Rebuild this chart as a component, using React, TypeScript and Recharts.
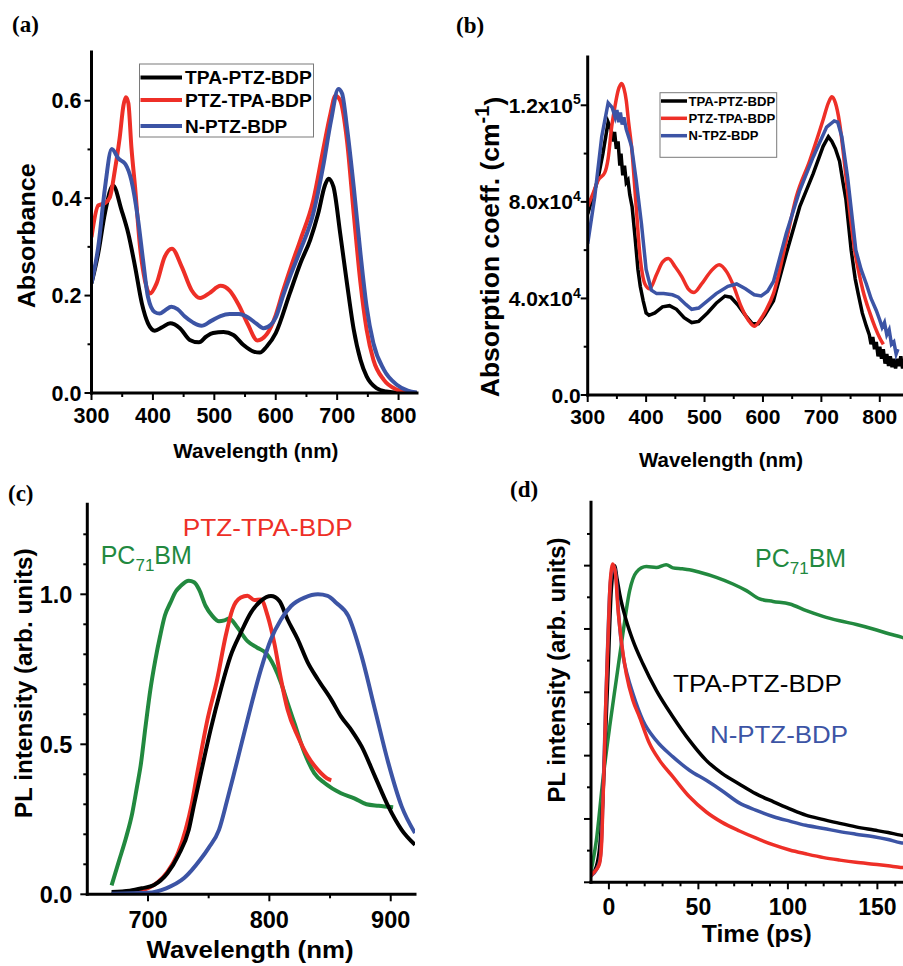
import React from 'react';
import { LineChart, Line, XAxis, YAxis } from 'recharts';

const SANS = '"Liberation Sans", Arial, Helvetica, sans-serif';
const SERIF = '"Liberation Serif", "Times New Roman", serif';
const BLACK = '#000000';
const RED = '#ee2f27';
const BLUE = '#3c54a5';
const GREEN = '#22893f';

// ---------- Panel (a): absorbance ----------
const A_WL_TPA = [300,311,322,335,349,360,371,382,392,403,415,428,444,460,475,487,498,515,531,547,564,574,585,600,623,640,656,669,680,686,694,705,716,727,738,748,764,780,800,830];
const A_ABS_TPA = [0.225,0.287,0.37,0.426,0.375,0.327,0.259,0.184,0.143,0.128,0.135,0.143,0.133,0.109,0.104,0.116,0.123,0.125,0.119,0.099,0.085,0.083,0.095,0.123,0.205,0.266,0.314,0.368,0.426,0.44,0.423,0.327,0.225,0.13,0.068,0.034,0.01,0.003,0.0005,0];
const A_WL_PTZ = [300,311,322,330,338,346,352,356,360,365,371,379,387,395,406,419,431,447,463,477,492,510,525,540,555,570,585,600,612,625,640,661,677,689,697,705,716,727,738,748,759,776,797,815,830];
const A_ABS_PTZ = [0.32,0.385,0.39,0.402,0.457,0.525,0.59,0.607,0.595,0.504,0.422,0.3,0.231,0.204,0.225,0.279,0.296,0.259,0.211,0.195,0.205,0.22,0.21,0.18,0.14,0.108,0.12,0.16,0.21,0.26,0.314,0.395,0.498,0.573,0.61,0.6,0.518,0.368,0.225,0.13,0.068,0.027,0.007,0.001,0];
const A_WL_N = [300,311,322,333,344,355,365,376,384,392,403,411,420,430,440,452,465,479,495,510,525,540,555,568,580,592,600,612,625,640,661,677,690,702,708,716,727,738,748,759,776,797,815,830];
const A_ABS_N = [0.225,0.3,0.422,0.501,0.481,0.47,0.436,0.354,0.272,0.197,0.166,0.163,0.17,0.177,0.172,0.157,0.145,0.138,0.148,0.158,0.162,0.162,0.155,0.143,0.133,0.14,0.155,0.2,0.245,0.293,0.368,0.464,0.559,0.624,0.615,0.545,0.423,0.286,0.177,0.102,0.048,0.017,0.005,0.001];
const A_X_TICKS = [300,350,400,450,500,550,600,650,700,750,800];
const A_Y_TICKS = [0,0.1,0.2,0.3,0.4,0.5,0.6];

// ---------- Panel (b): absorption coefficient ----------
const B_WL_TPA = [300,310,318,326,335,340,344,346,349,352,355,357,360,363,366,369,372,376,381,386,390,395,400,405,415,428,440,452,465,478,490,505,520,535,545,558,570,582,592,603,618,640,663,686,703,712,718,724,731,737,742,751,758,763,770,777,782,785,788,791,794,797,800,803,806,809,812,815,818,821,824,827,830,833,836,839,842,846,850];
const B_COEF_TPA = [75000,83000,90000,100000,113000,110000,105000,109000,102000,105000,95000,100000,91000,95000,88000,89000,83000,78000,65500,52000,45000,39000,34000,33000,34000,36500,37000,35500,32000,30000,30500,34000,38000,41000,40500,37000,33000,29500,29500,33000,39000,58600,78000,91700,103000,107000,105000,102000,97000,88000,81000,60000,48000,42000,34000,28500,25000,21000,24000,19000,22000,16000,20000,15000,19000,13000,17000,12000,16000,11500,15000,11000,15000,12000,16000,11000,14000,12000,13000];
const B_WL_PTZ = [300,310,318,329,335,341,347,352,358,362,366,370,375,383,389,398,406,418,428,438,450,461,472,482,495,510,525,538,550,562,575,585,595,605,618,640,657,680,703,712,718,724,731,740,750,757,764,771,783,792,800,806];
const B_COEF_PTZ = [78000,84000,89000,92000,98000,111000,120000,126000,129000,127000,122000,113000,103000,78000,59000,46000,44000,50000,55000,56500,53000,49000,44000,42500,46000,51000,54000,51000,45000,37000,31000,28500,31000,35000,42000,64000,82000,97000,114000,121000,123500,121000,113000,95000,73000,60000,51000,43400,34000,28000,23600,21000];
const B_WL_N = [300,312,324,335,342,347,350,353,356,359,362,366,370,375,383,392,400,409,418,430,445,455,468,478,490,505,520,540,555,570,585,597,608,618,640,663,686,709,722,728,735,745,752,759,768,777,785,794,800,804,808,812,816,820,824,828,831];
const B_COEF_N = [62700,82000,107000,121000,119000,115000,118000,113000,117000,112000,115000,110000,107000,103000,89000,71000,52000,43400,42000,42000,41500,40500,37500,35500,36000,39000,42000,45000,46000,44000,41500,41000,43000,47000,67000,84800,98600,111000,113500,113000,107000,90000,75000,60000,52000,46000,40000,35000,31000,28000,30000,25000,27000,21000,22000,17000,19000];
const B_X_TICKS = [300,350,400,450,500,550,600,650,700,750,800];
const B_Y_TICKS = [0,20000,40000,60000,80000,100000,120000];

// ---------- Panel (c): steady-state PL ----------
const C_WL_PC = [670,676,682,687,691,694,698,702,706,710,714,718.5,723,727,733.6,738,742,747.5,753,758.5,763,767,773.7,782,790,797,804,809.6,815,820.6,829,837,845.5,859,870,880,890,902];
const C_PL_PC = [0.03,0.11,0.19,0.27,0.36,0.43,0.56,0.683,0.78,0.861,0.93,0.972,1.01,1.028,1.045,1.04,1.017,0.961,0.928,0.91,0.913,0.919,0.889,0.844,0.822,0.805,0.76,0.705,0.638,0.571,0.471,0.404,0.371,0.337,0.32,0.3,0.295,0.29];
const C_WL_PTZ = [672,690,700,708,716,725,731,736,740.6,745,749,757,764,769.6,776.5,782,787.6,793,798.6,804,809.6,815,823.4,831.7,840,849.6,851];
const C_PL_PTZ = [0.003,0.008,0.02,0.04,0.075,0.14,0.215,0.3,0.404,0.5,0.582,0.716,0.861,0.95,0.989,0.995,0.981,0.983,0.928,0.839,0.716,0.616,0.527,0.46,0.415,0.382,0.38];
const C_WL_TPA = [670,685,695,705,716,725,733.6,738,743,751.6,760,768,776.5,784.8,793,801.3,808.2,815,823.4,831.7,840,851,859,868,876,887,898,909,920];
const C_PL_TPA = [0.008,0.012,0.02,0.031,0.07,0.13,0.215,0.3,0.393,0.549,0.683,0.794,0.872,0.939,0.978,0.994,0.978,0.916,0.85,0.772,0.716,0.649,0.593,0.545,0.493,0.393,0.293,0.215,0.165];
const C_WL_N = [670,700,715,730,743,750,758.5,765,771,782,793,801.3,809.6,817.9,829,840,848,855,865,876,887,898,909,920];
const C_PL_N = [0.002,0.005,0.02,0.055,0.115,0.155,0.215,0.31,0.404,0.582,0.749,0.85,0.916,0.961,0.989,1.0,0.995,0.972,0.928,0.794,0.616,0.438,0.293,0.204];
const C_X_TICKS = [700,750,800,850,900];
const C_Y_TICKS = [0,0.1,0.2,0.3,0.4,0.5,0.6,0.7,0.8,0.9,1.0,1.1,1.2];

// ---------- Panel (d): time-resolved PL ----------
const D_T_TPA = [-10,-7,-5,-3.4,-2,-0.5,1.3,3.2,4.5,6,9.7,13.4,19,26.5,35.8,45,54.4,63,73,82,92,101,110,120,129,138,148,156,163,168];
const D_PL_TPA = [0.02,0.05,0.12,0.26,0.45,0.66,0.92,1.0,0.96,0.911,0.827,0.764,0.69,0.606,0.522,0.448,0.385,0.345,0.31,0.28,0.254,0.232,0.212,0.198,0.186,0.175,0.165,0.157,0.149,0.145];
const D_T_N = [-10,-7,-5,-3.8,-3,-2,-0.8,0.5,2,3,4.2,5.5,7.8,10.5,13.4,19,26.4,35.8,45,54.4,63,73,82,92,101,110,120,129,138,148,156,163,168];
const D_PL_N = [0.02,0.04,0.07,0.18,0.33,0.52,0.73,0.92,0.99,0.995,0.95,0.84,0.72,0.65,0.596,0.511,0.448,0.396,0.354,0.322,0.29,0.25,0.228,0.207,0.193,0.18,0.17,0.16,0.152,0.144,0.135,0.125,0.122];
const D_T_PTZ = [-10,-8.9,-7,-5.2,-4,-3.4,-2.5,-1.8,-0.5,0.8,2.2,3.7,5,6.9,9.7,13.4,17.1,22.7,28.3,35.8,45,54.4,63,73,82,92,101,110,120,129,138,148,156,163,168];
const D_PL_PTZ = [0.02,0.028,0.04,0.06,0.13,0.24,0.4,0.553,0.764,0.953,1.005,0.974,0.869,0.764,0.659,0.575,0.522,0.438,0.385,0.333,0.27,0.222,0.19,0.162,0.14,0.118,0.102,0.09,0.078,0.07,0.063,0.057,0.052,0.047,0.045];
const D_T_PC = [-10,-7,-3.4,0.4,4.1,7.8,11.6,15.3,20.9,26.5,32,35.8,41,45,50.7,60,69.3,76.8,84.2,91.7,101,110.3,119.6,128.9,138.3,147.6,156.9,163.4,168];
const D_PL_PC = [0.035,0.133,0.322,0.49,0.638,0.785,0.921,0.979,0.997,0.994,1.003,0.993,0.99,0.987,0.979,0.963,0.942,0.921,0.895,0.887,0.879,0.858,0.84,0.826,0.814,0.8,0.784,0.774,0.765];
const D_X_TICKS = [0,10,20,30,40,50,60,70,80,90,100,110,120,130,140,150,160];
const D_Y_TICKS = [0,0.1,0.2,0.3,0.4,0.5,0.6,0.7,0.8,0.9,1.0,1.1];

const zip = (xs: number[], ys: number[]) => xs.map((x, i) => ({ x, y: ys[i] }));
const isMult = (v: number, step: number) => Math.abs(v / step - Math.round(v / step)) < 1e-6;

type Side = 'bottom' | 'left' | 'top' | 'right';

function tickFactory(side: Side, majorStep: number, label?: (v: number) => React.ReactNode, fontSize = 20, gap = 10) {
  return function TickMark(props: any) {
    const { x, y, payload } = props;
    const v = Number(payload.value);
    const major = isMult(v, majorStep);
    const len = major ? 7 : 4;
    let x2 = x;
    let y2 = y;
    if (side === 'bottom') y2 = y + len;
    else if (side === 'top') y2 = y + len;
    else if (side === 'left') x2 = x - len;
    else x2 = x - len;
    let text: React.ReactNode = null;
    if (major && label) {
      if (side === 'bottom') {
        text = (
          <text x={x} y={y + gap} dy="0.36em" textAnchor="middle" fontFamily={SANS} fontWeight="bold" fontSize={fontSize} fill="#000">
            {label(v)}
          </text>
        );
      } else if (side === 'left') {
        text = (
          <text x={x - gap} y={y} dy="0.36em" textAnchor="end" fontFamily={SANS} fontWeight="bold" fontSize={fontSize} fill="#000">
            {label(v)}
          </text>
        );
      }
    }
    return (
      <g>
        <line x1={x} y1={y} x2={x2} y2={y2} stroke="#000" strokeWidth={2} />
        {text}
      </g>
    );
  };
}

const AXIS_LINE = { stroke: '#000', strokeWidth: 3, strokeLinecap: 'square' as const };

const fmt1 = (v: number) => v.toFixed(1);
const fmtInt = (v: number) => String(v);
const fmtSci = (v: number) => {
  if (v === 0) return '0.0';
  const e = Math.floor(Math.log10(v) + 1e-9);
  const m = v / Math.pow(10, e);
  return (
    <>
      {m.toFixed(1)}x10
      <tspan dy="-0.6em" fontSize={14}>{e}</tspan>
    </>
  );
};

type PanelProps = {
  left: number; top: number; width: number; height: number;
  margin: { top: number; right: number; left: number; bottom: number };
  yWidth: number; xHeight: number;
  xDomain: [number, number]; yDomain: [number, number];
  xTicks: number[]; yTicks: number[];
  xMajor: number; yMajor: number;
  xLabel?: (v: number) => React.ReactNode; yLabel?: (v: number) => React.ReactNode;
  fontSize: number; xGap: number; yGap: number;
  series: { data: { x: number; y: number }[]; color: string; width: number; type: 'monotone' | 'linear'; name: string }[];
};

function Panel(p: PanelProps) {
  return (
    <div style={{ position: 'absolute', left: p.left, top: p.top }}>
      <LineChart width={p.width} height={p.height} margin={p.margin}>
        <XAxis
          xAxisId={0}
          type="number"
          dataKey="x"
          domain={p.xDomain}
          allowDataOverflow
          ticks={p.xTicks}
          interval={0}
          height={p.xHeight}
          tickSize={0}
          tickMargin={0}
          tickLine={false}
          axisLine={AXIS_LINE}
          tick={tickFactory('bottom', p.xMajor, p.xLabel, p.fontSize, p.xGap)}
        />
        <XAxis
          xAxisId="top"
          orientation="top"
          type="number"
          domain={p.xDomain}
          allowDataOverflow
          ticks={p.xTicks}
          interval={0}
          height={0}
          tickSize={0}
          tickMargin={0}
          tickLine={false}
          axisLine={AXIS_LINE}
          tick={tickFactory('top', p.xMajor)}
        />
        <YAxis
          yAxisId={0}
          type="number"
          domain={p.yDomain}
          allowDataOverflow
          ticks={p.yTicks}
          interval={0}
          width={p.yWidth}
          tickSize={0}
          tickMargin={0}
          tickLine={false}
          axisLine={AXIS_LINE}
          tick={tickFactory('left', p.yMajor, p.yLabel, p.fontSize, p.yGap)}
        />
        <YAxis
          yAxisId="right"
          orientation="right"
          type="number"
          domain={p.yDomain}
          allowDataOverflow
          ticks={p.yTicks}
          interval={0}
          width={0}
          tickSize={0}
          tickMargin={0}
          tickLine={false}
          axisLine={AXIS_LINE}
          tick={tickFactory('right', p.yMajor)}
        />
        {p.series.map((s) => (
          <Line
            key={s.name}
            name={s.name}
            data={s.data}
            dataKey="y"
            type={s.type}
            stroke={s.color}
            strokeWidth={s.width}
            dot={false}
            activeDot={false}
            isAnimationActive={false}
          />
        ))}
      </LineChart>
    </div>
  );
}

const T = { fontFamily: SANS };

export default function App() {
  return (
    <div style={{ position: 'absolute', left: 0, top: 0, width: 903, height: 966, overflow: 'hidden', background: '#fff' }}>
      <Panel
        left={0} top={0} width={440} height={470}
        margin={{ top: 52, right: 23, left: 0, bottom: 0 }}
        yWidth={91.5} xHeight={77}
        xDomain={[300, 830]} yDomain={[0, 0.7]}
        xTicks={A_X_TICKS} yTicks={A_Y_TICKS} xMajor={100} yMajor={0.2}
        xLabel={fmtInt} yLabel={fmt1} fontSize={21.5} xGap={22} yGap={10}
        series={[
          { name: 'TPA-PTZ-BDP', data: zip(A_WL_TPA, A_ABS_TPA), color: BLACK, width: 4, type: 'monotone' },
          { name: 'PTZ-TPA-BDP', data: zip(A_WL_PTZ, A_ABS_PTZ), color: RED, width: 4, type: 'monotone' },
          { name: 'N-PTZ-BDP', data: zip(A_WL_N, A_ABS_N), color: BLUE, width: 4, type: 'monotone' },
        ]}
      />
      <Panel
        left={440} top={0} width={470} height={470}
        margin={{ top: 57, right: 1, left: 0, bottom: 0 }}
        yWidth={147.7} xHeight={75}
        xDomain={[300, 850]} yDomain={[0, 140000]}
        xTicks={B_X_TICKS} yTicks={B_Y_TICKS} xMajor={100} yMajor={40000}
        xLabel={fmtInt} yLabel={fmtSci} fontSize={21} xGap={21} yGap={7}
        series={[
          { name: 'TPA-PTZ-BDP', data: zip(B_WL_TPA, B_COEF_TPA), color: BLACK, width: 3.5, type: 'linear' },
          { name: 'PTZ-TPA-BDP', data: zip(B_WL_PTZ, B_COEF_PTZ), color: RED, width: 3.5, type: 'monotone' },
          { name: 'N-TPZ-BDP', data: zip(B_WL_N, B_COEF_N), color: BLUE, width: 3.5, type: 'linear' },
        ]}
      />
      <Panel
        left={0} top={470} width={440} height={496}
        margin={{ top: 34.3, right: 25, left: 0, bottom: 0 }}
        yWidth={87.3} xHeight={71.7}
        xDomain={[650, 920]} yDomain={[0, 1.3]}
        xTicks={C_X_TICKS} yTicks={C_Y_TICKS} xMajor={100} yMajor={0.5}
        xLabel={fmtInt} yLabel={fmt1} fontSize={23.5} xGap={25} yGap={15}
        series={[
          { name: 'PC71BM', data: zip(C_WL_PC, C_PL_PC), color: GREEN, width: 4, type: 'monotone' },
          { name: 'PTZ-TPA-BDP', data: zip(C_WL_PTZ, C_PL_PTZ), color: RED, width: 4, type: 'monotone' },
          { name: 'TPA-PTZ-BDP', data: zip(C_WL_TPA, C_PL_TPA), color: BLACK, width: 4, type: 'monotone' },
          { name: 'N-PTZ-BDP', data: zip(C_WL_N, C_PL_N), color: BLUE, width: 4, type: 'monotone' },
        ]}
      />
      <Panel
        left={440} top={470} width={470} height={496}
        margin={{ top: 32.3, right: 0.4, left: 0, bottom: 0 }}
        yWidth={151} xHeight={83.7}
        xDomain={[-10, 168]} yDomain={[0, 1.2]}
        xTicks={D_X_TICKS} yTicks={D_Y_TICKS} xMajor={50} yMajor={0.2}
        xLabel={fmtInt} fontSize={23} xGap={24} yGap={10}
        series={[
          { name: 'PC71BM', data: zip(D_T_PC, D_PL_PC), color: GREEN, width: 3.5, type: 'monotone' },
          { name: 'TPA-PTZ-BDP', data: zip(D_T_TPA, D_PL_TPA), color: BLACK, width: 3.5, type: 'monotone' },
          { name: 'N-PTZ-BDP', data: zip(D_T_N, D_PL_N), color: BLUE, width: 3.5, type: 'monotone' },
          { name: 'PTZ-TPA-BDP', data: zip(D_T_PTZ, D_PL_PTZ), color: RED, width: 3.5, type: 'monotone' },
        ]}
      />

      <svg width={903} height={966} style={{ position: 'absolute', left: 0, top: 0, pointerEvents: 'none' }}>
        {/* panel letters */}
        <g fontFamily={SERIF} fontWeight="bold" fontSize={23} fill="#000">
          <text x={12} y={32}>(a)</text>
          <text x={456} y={33}>(b)</text>
          <text x={8} y={501}>(c)</text>
          <text x={510} y={497}>(d)</text>
        </g>

        {/* legend (a) */}
        <rect x={139.5} y={64} width={174} height={73} fill="#fff" stroke="#7a7a7a" strokeWidth={1} />
        <g strokeWidth={4}>
          <line x1={140.5} y1={77.5} x2={182} y2={77.5} stroke={BLACK} />
          <line x1={140.5} y1={100} x2={182} y2={100} stroke={RED} />
          <line x1={140.5} y1={126} x2={182} y2={126} stroke={BLUE} />
        </g>
        <g {...T} fontWeight="bold" fontSize={18} fill="#000">
          <text x={185} y={84} textLength={126.7} lengthAdjust="spacingAndGlyphs">TPA-PTZ-BDP</text>
          <text x={185} y={106.5} textLength={126.7} lengthAdjust="spacingAndGlyphs">PTZ-TPA-BDP</text>
          <text x={185} y={132.5} textLength={102.3} lengthAdjust="spacingAndGlyphs">N-PTZ-BDP</text>
        </g>

        {/* legend (b) */}
        <rect x={660} y={92.7} width={116.7} height={64.6} fill="#fff" stroke="#7a7a7a" strokeWidth={1} />
        <g strokeWidth={3.5}>
          <line x1={661} y1={101} x2={687} y2={101} stroke={BLACK} />
          <line x1={661} y1={118.3} x2={687} y2={118.3} stroke={RED} />
          <line x1={661} y1={135.7} x2={687} y2={135.7} stroke={BLUE} />
        </g>
        <g {...T} fontWeight="bold" fontSize={12.5} fill="#000">
          <text x={688.5} y={105.5} textLength={86.7} lengthAdjust="spacingAndGlyphs">TPA-PTZ-BDP</text>
          <text x={688.5} y={122.8} textLength={86.7} lengthAdjust="spacingAndGlyphs">PTZ-TPA-BDP</text>
          <text x={688.5} y={140.2} textLength={70} lengthAdjust="spacingAndGlyphs">N-TPZ-BDP</text>
        </g>

        {/* axis titles */}
        <g {...T} fontWeight="bold" fill="#000">
          <text x={35} y={235.8} fontSize={23} textAnchor="middle" transform="rotate(-90 35 235.8)" textLength={145} lengthAdjust="spacingAndGlyphs">Absorbance</text>
          <text x={255.8} y={458} fontSize={21} textAnchor="middle" textLength={165} lengthAdjust="spacingAndGlyphs">Wavelength (nm)</text>
          <text x={499.3} y={247} fontSize={26.5} textAnchor="middle" transform="rotate(-90 499.3 247)">
            Absorption coeff. (cm<tspan dy="-0.5em" fontSize={20}>-1</tspan><tspan dy="0.5em">)</tspan>
          </text>
          <text x={721} y={466.5} fontSize={21} textAnchor="middle" textLength={164} lengthAdjust="spacingAndGlyphs">Wavelength (nm)</text>
          <text x={250} y={958} fontSize={24} textAnchor="middle" textLength={207} lengthAdjust="spacingAndGlyphs">Wavelength (nm)</text>
          <text x={31.7} y={683.3} fontSize={24} textAnchor="middle" transform="rotate(-90 31.7 683.3)" textLength={270} lengthAdjust="spacingAndGlyphs">PL intensity (arb. units)</text>
          <text x={756.7} y={941.7} fontSize={23} textAnchor="middle" textLength={110} lengthAdjust="spacingAndGlyphs">Time (ps)</text>
          <text x={565} y={670} fontSize={24} textAnchor="middle" transform="rotate(-90 565 670)" textLength={265} lengthAdjust="spacingAndGlyphs">PL intensity (arb. units)</text>
        </g>

        {/* annotations (c) */}
        <g {...T}>
          <text x={182.7} y={535.7} fontSize={23} fill={RED} textLength={170} lengthAdjust="spacingAndGlyphs">PTZ-TPA-BDP</text>
          <text x={100.7} y={564.3} fontSize={25} fill={GREEN}>
            PC<tspan dy={7} fontSize={17}>71</tspan><tspan dy={-7}>BM</tspan>
          </text>
          {/* annotations (d) */}
          <text x={755} y={566.7} fontSize={25} fill={GREEN}>
            PC<tspan dy={7} fontSize={17}>71</tspan><tspan dy={-7}>BM</tspan>
          </text>
          <text x={673} y={691.7} fontSize={24} fill={BLACK} textLength={169} lengthAdjust="spacingAndGlyphs">TPA-PTZ-BDP</text>
          <text x={710} y={743.3} fontSize={24} fill={BLUE} textLength={138} lengthAdjust="spacingAndGlyphs">N-PTZ-BDP</text>
        </g>
      </svg>
    </div>
  );
}
